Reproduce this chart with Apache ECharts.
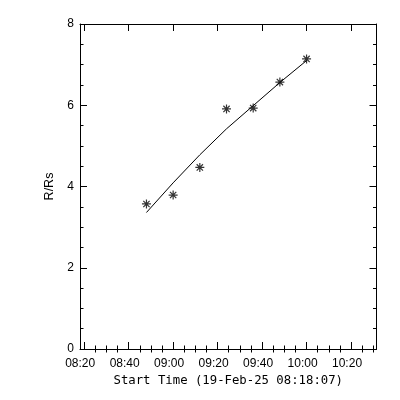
<!DOCTYPE html>
<html><head><meta charset="utf-8">
<script src="https://cdn.jsdelivr.net/npm/echarts@6/dist/echarts.min.js"></script>
<style>html,body{margin:0;padding:0;background:#fff}#c{width:400px;height:400px}</style>
</head><body><div id="c"></div>
<script>
// time axis in minutes since midnight
const axisStartMin = 8 * 60 + 18 + 7 / 60;   // 08:18:07
const axisRangeMin = 8000 / 60;
const obsTimes   = [528, 540, 552, 564, 576, 588, 600];   // 08:48 ... 10:00
const heights    = [3.57, 3.79, 4.47, 5.91, 5.93, 6.57, 7.14];
const fitHeights = [3.36, 4.09, 4.78, 5.42, 5.99, 6.56, 7.10];
const majorTicks = [500, 520, 540, 560, 580, 600, 620];
const tickLabels = ['08:20', '08:40', '09:00', '09:20', '09:40', '10:00', '10:20'];
const minorTicks = [505, 510, 515, 525, 530, 535, 545, 550, 555, 565, 570, 575,
                    585, 590, 595, 605, 610, 615, 625, 630];
const yTicks = [0, 2, 4, 6, 8];

const FONT = '"Liberation Sans", Arial, sans-serif';
const black = '#000';
const xMin = axisStartMin, xMax = axisStartMin + axisRangeMin;

function xAx(pos, ticks, len, opts) {
  return Object.assign({
    type: 'value', position: pos, min: xMin, max: xMax, gridIndex: 0,
    splitLine: { show: false },
    axisLine: { show: true, onZero: false, lineStyle: { color: black, width: 1 } },
    axisTick: { show: true, inside: true, length: len, customValues: ticks, lineStyle: { color: black, width: 1 } },
    axisLabel: { show: false }
  }, opts || {});
}
function yAx(pos, opts) {
  return Object.assign({
    type: 'value', position: pos, min: 0, max: 8, interval: 2,
    splitLine: { show: false },
    axisLine: { show: true, onZero: false, lineStyle: { color: black, width: 1 } },
    axisTick: { show: true, inside: true, length: 7, lineStyle: { color: black, width: 1 } },
    minorTick: { show: true, splitNumber: 4, length: 3.5, lineStyle: { color: black, width: 1 } },
    minorSplitLine: { show: false },
    axisLabel: { show: false }
  }, opts || {});
}

const chart = echarts.init(document.getElementById('c'), null, { renderer: 'canvas' });
chart.setOption({
  animation: false,
  backgroundColor: '#fff',
  grid: { left: 80, right: 23.5, top: 24, bottom: 51, containLabel: false },
  xAxis: [
    xAx('bottom', majorTicks, 7, {
      name: 'Start Time (19-Feb-25 08:18:07)',
      nameLocation: 'middle', nameGap: 24,
      nameTextStyle: { color: black, fontFamily: '"DejaVu Sans Mono", monospace', fontSize: 12.3 },
      axisLabel: {
        show: true, customValues: majorTicks, color: black, fontFamily: FONT, fontSize: 12,
        margin: 9, padding: [0, 8, 0, 0],
        formatter: function (v) { return tickLabels[majorTicks.indexOf(Math.round(v))]; }
      }
    }),
    xAx('bottom', minorTicks, 3.5, { axisLine: { show: false } }),
    xAx('top', majorTicks, 7),
    xAx('top', minorTicks, 3.5, { axisLine: { show: false } })
  ],
  yAxis: [
    yAx('left', {
      name: 'R/Rs', nameLocation: 'middle', nameGap: 22,
      nameTextStyle: { color: black, fontFamily: FONT, fontSize: 12.5 },
      axisLabel: { show: true, color: black, fontFamily: FONT, fontSize: 12, margin: 6 }
    }),
    yAx('right')
  ],
  series: [
    {
      type: 'line', xAxisIndex: 0, yAxisIndex: 0,
      data: obsTimes.map((t, i) => [t, fitHeights[i]]),
      showSymbol: false, symbol: 'none', smooth: false,
      lineStyle: { color: black, width: 1 }, silent: true
    },
    {
      type: 'scatter', xAxisIndex: 0, yAxisIndex: 0,
      data: obsTimes.map((t, i) => [t, heights[i]]),
      symbol: 'path://M5,0L5,10M0,5L10,5M1.5,1.5L8.5,8.5M1.5,8.5L8.5,1.5',
      symbolSize: 9,
      itemStyle: { color: 'rgba(0,0,0,0)', borderColor: black, borderWidth: 1.2 },
      silent: true
    }
  ]
});
</script>
</body></html>
